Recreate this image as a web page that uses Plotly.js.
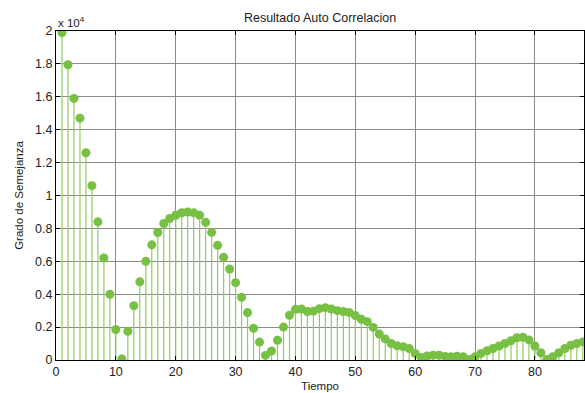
<!DOCTYPE html>
<html>
<head>
<meta charset="utf-8">
<script src="https://cdn.plot.ly/plotly-3.0.1.min.js"></script>
<style>html,body{margin:0;padding:0;background:#fff}#chart{width:585px;height:393px}</style>
</head>
<body>
<div id="chart"></div>
<script>
// Lag (time) values
const lags = [];
for (let i = 1; i <= 88; i++) lags.push(i);

// Autocorrelation values (raw units, axis shows x 10^4)
const correlation = [
  19900, 17950, 15900, 14700, 12600, 10600, 8400, 6200, 4000, 1850,
  60, 1750, 3300, 4750, 6000, 7000, 7750, 8300, 8600, 8800,
  8950, 9000, 8950, 8800, 8370, 7760, 6970, 6240, 5530, 4700,
  3810, 2880, 1930, 1090, 280, 550, 1200, 2000, 2720, 3080,
  3100, 2950, 2970, 3120, 3180, 3100, 3000, 2950, 2880, 2700,
  2480, 2330, 1980, 1580, 1280, 1000, 860, 810, 700, 400,
  150, 240, 290, 290, 220, 200, 230, 200, 30, 200,
  400, 560, 700, 850, 1000, 1170, 1350, 1380, 1220, 850,
  440, 30, 200, 440, 700, 900, 1000, 1100
];

const yTickVals = [0, 2000, 4000, 6000, 8000, 10000, 12000, 14000, 16000, 18000, 20000];
const yTickText = ['0', '0.2', '0.4', '0.6', '0.8', '1', '1.2', '1.4', '1.6', '1.8', '2'];
const xTickVals = [0, 10, 20, 30, 40, 50, 60, 70, 80];

const titleText = 'Resultado Auto Correlacion';
const xLabel = 'Tiempo';
const yLabel = 'Grado de Semejanza';

const zeros = correlation.map(() => 0);

const trace = {
  type: 'scatter',
  mode: 'markers',
  x: lags,
  y: correlation,
  marker: {color: '#77c043', size: 9, line: {width: 0}},
  error_y: {
    type: 'data',
    symmetric: false,
    array: zeros,
    arrayminus: correlation,
    color: '#8fcc5e',
    thickness: 1.2,
    width: 0
  },
  hoverinfo: 'x+y'
};

const font = {family: 'Liberation Sans, Arial, sans-serif', color: '#222'};

const layout = {
  width: 585,
  height: 393,
  margin: {l: 56, r: 1, t: 31, b: 33},
  paper_bgcolor: '#ffffff',
  plot_bgcolor: '#ffffff',
  showlegend: false,
  font: Object.assign({size: 12}, font),
  title: {
    text: titleText,
    font: Object.assign({size: 12.5}, font),
    x: 0.5, xref: 'paper', xanchor: 'center',
    y: 1, yref: 'paper', yanchor: 'bottom', pad: {b: 9}
  },
  xaxis: {
    range: [0, 88.2],
    tickvals: xTickVals,
    ticktext: xTickVals.map(String),
    ticks: 'inside', ticklen: 4, tickcolor: '#000',
    showline: true, linecolor: '#000', linewidth: 1, mirror: 'ticks',
    showgrid: true, gridcolor: '#8a8a8a', gridwidth: 1,
    zeroline: false,
    tickfont: Object.assign({size: 12.5}, font),
    title: {text: xLabel, font: Object.assign({size: 11.5}, font), standoff: 3}
  },
  yaxis: {
    range: [0, 20000],
    tickvals: yTickVals,
    ticktext: yTickText,
    ticks: 'inside', ticklen: 4, tickcolor: '#000',
    showline: true, linecolor: '#000', linewidth: 1, mirror: 'ticks',
    showgrid: true, gridcolor: '#8a8a8a', gridwidth: 1,
    zeroline: false,
    tickfont: Object.assign({size: 12.5}, font),
    title: {text: yLabel, font: Object.assign({size: 11.5}, font), standoff: 9}
  },
  annotations: [{
    text: 'x 10<sup>4</sup>',
    xref: 'paper', yref: 'paper', x: 0, y: 1,
    xanchor: 'left', yanchor: 'bottom', showarrow: false,
    font: Object.assign({size: 11.5}, font), yshift: 0
  }]
};

Plotly.newPlot('chart', [trace], layout, {displayModeBar: false, staticPlot: true});
</script>
</body>
</html>
